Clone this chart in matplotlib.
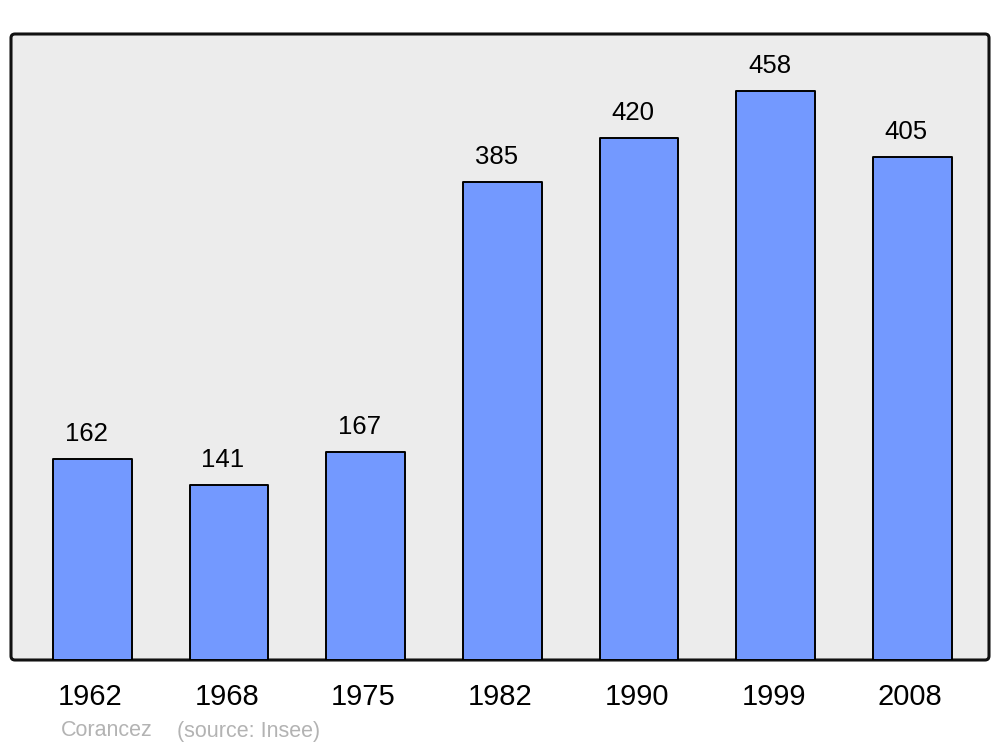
import matplotlib
matplotlib.use("Agg")
import matplotlib.pyplot as plt
from matplotlib.patches import FancyBboxPatch
from matplotlib.transforms import IdentityTransform, ScaledTranslation

years = ["1962", "1968", "1975", "1982", "1990", "1999", "2008"]
population = [162, 141, 167, 385, 420, 458, 405]
title_text = "Corancez"
source_text = "(source: Insee)"

plt.rcParams['font.family'] = ['Liberation Sans', 'DejaVu Sans']

fig = plt.figure(figsize=(10, 7.47), dpi=100)
fig.patch.set_facecolor("white")
ax = fig.add_axes([0.011, 87/747, 0.978, 626/747])
ax.set_facecolor("none")
ax.set_zorder(2)

# frame background with rounded corners (pixel coordinates)
bg = FancyBboxPatch((11, 87), 978, 626, boxstyle="round,pad=0,rounding_size=4",
                    transform=IdentityTransform(), facecolor="#ececec",
                    edgecolor="#111111", linewidth=2.2, zorder=-1)
fig.patches.append(bg)

x = list(range(len(years)))
bars = ax.bar(x, population, width=0.575, color="#7399ff", edgecolor="black",
              linewidth=1.4, zorder=2)
for b in bars:
    b.set_joinstyle("round")

for xi, v in zip(x, population):
    ax.annotate(str(v), (xi, v), xytext=(-4.5, 13), textcoords="offset points",
                ha="center", va="baseline", fontsize=18.5, color="black")

ax.set_xlim(-0.595, 6.56)
ax.set_ylim(0, max(population) * 1.1)
ax.set_xticks(x)
ax.set_xticklabels(years, fontsize=21)
ax.tick_params(axis="x", length=0, pad=16.5)
shift = ScaledTranslation(-1.5/72, 0, fig.dpi_scale_trans)
for lbl in ax.get_xticklabels():
    lbl.set_transform(lbl.get_transform() + shift)
ax.set_yticks([])
for s in ax.spines.values():
    s.set_visible(False)

fig.text(61/1000, 1 - 731/747, title_text, fontsize=15.5, color="#b3b3b3",
         ha="left", va="center")
fig.text(177/1000, 1 - 731/747, source_text, fontsize=15.5, color="#b3b3b3",
         ha="left", va="center")

fig.savefig("out.png", dpi=100, facecolor="white")
